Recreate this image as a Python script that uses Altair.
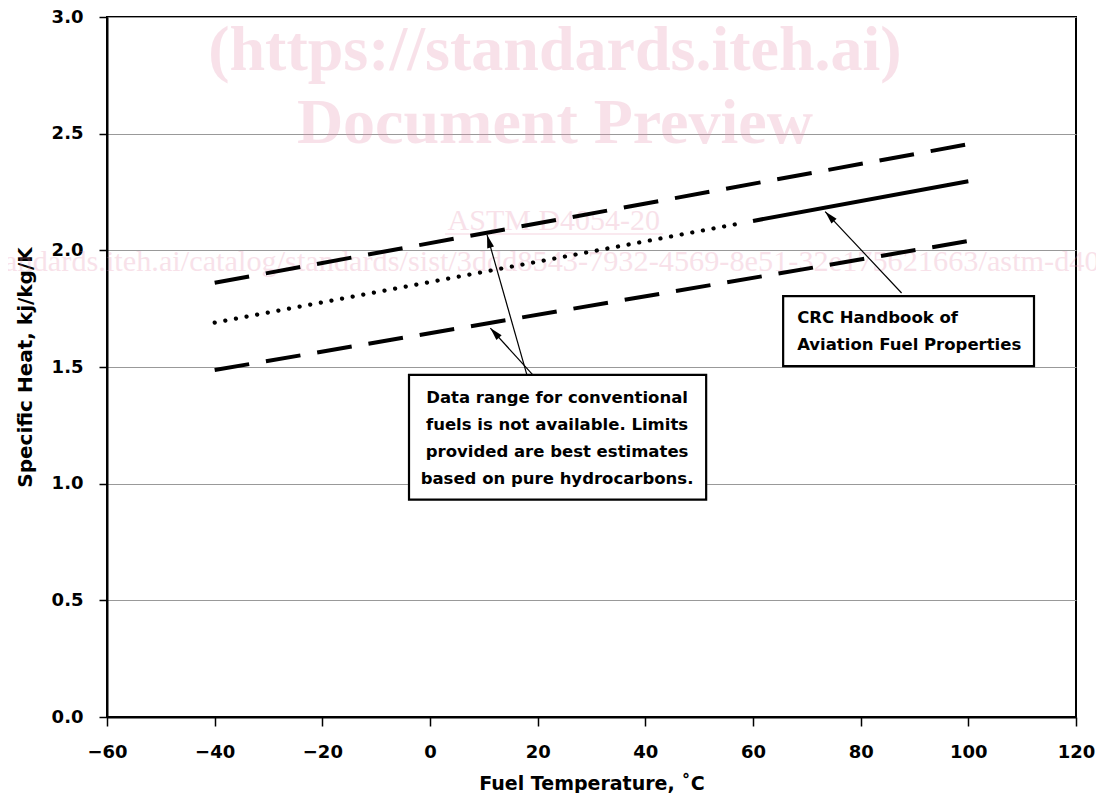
import math
import altair as alt
import pandas as pd

# ---------------- data ----------------
upper_temp = [-40, 100]
upper_heat = [1.861, 2.455]
lower_temp = [-40, 100]
lower_heat = [1.487, 2.040]
est_temp = [-40, 58]
est_heat = [1.690, 2.117]
crc_temp = [60, 100]
crc_heat = [2.126, 2.296]

x_ticks = [-60, -40, -20, 0, 20, 40, 60, 80, 100, 120]
y_ticks = [0.0, 0.5, 1.0, 1.5, 2.0, 2.5, 3.0]

box1_lines = [
    "Data range for conventional",
    "fuels is not available. Limits",
    "provided are best estimates",
    "based on pure hydrocarbons.",
]
box2_lines = ["CRC Handbook of", "Aviation Fuel Properties"]

wm_title = ["(https://standards.iteh.ai)", "Document Preview"]
wm_code = "ASTM D4054-20"
wm_url = "https://standards.iteh.ai/catalog/standards/sist/3ddd8543-7932-4569-8e51-32e175621663/astm-d4054-20"

# ---------------- layout (data units) ----------------
W, H = 969, 700
X_DOM, Y_DOM = [-60, 120], [0, 3]
PX_X = W / (X_DOM[1] - X_DOM[0])
PX_Y = H / (Y_DOM[1] - Y_DOM[0])

FONT = "DejaVu Sans"
SERIF = "Liberation Serif"

xs = alt.Scale(domain=X_DOM, nice=False, zero=False)
ys = alt.Scale(domain=Y_DOM, nice=False, zero=False)

xa = alt.Axis(values=x_ticks, grid=False, domainColor="black", domainWidth=2,
              tickColor="black", tickSize=9, tickWidth=1.5,
              labelFont=FONT, labelFontWeight="bold", labelFontSize=18,
              labelColor="black", labelPadding=17, labelOverlap=False, labelFlush=False,
              titleFont=FONT, titleFontWeight="bold", titleFontSize=19,
              titleColor="black", titlePadding=13)
ya = alt.Axis(values=y_ticks, format=".1f", grid=True, gridColor="#999999", gridWidth=1.2,
              domainColor="black", domainWidth=2,
              tickColor="black", tickSize=8, tickWidth=1.5,
              labelFont=FONT, labelFontWeight="bold", labelFontSize=18,
              labelColor="black", labelPadding=16, labelOverlap=False, labelFlush=False,
              titleFont=FONT, titleFontWeight="bold", titleFontSize=20,
              titleColor="black", titlePadding=16)

XT = "Fuel Temperature, ˚C"
YT = "Specific Heat, kj/kg/K"


def X(f="x"):
    return alt.X(f"{f}:Q", scale=xs, axis=xa, title=XT)


def Y(f="y"):
    return alt.Y(f"{f}:Q", scale=ys, axis=ya, title=YT)


def series_df(t, h):
    return pd.DataFrame({"x": t, "y": h})


# ---------------- watermark ----------------
WM_COLOR = "#e58fae"
WM_OP = 0.26
wm1 = pd.DataFrame({"x": [23.2, 23.2], "y": [2.773, 2.460], "t": wm_title})
wm_layer1 = alt.Chart(wm1).mark_text(font=SERIF, fontWeight="bold", fontSize=64,
                                     align="center", baseline="alphabetic",
                                     color=WM_COLOR, opacity=WM_OP).encode(x=X(), y=Y(), text="t:N")
wm2 = pd.DataFrame({"x": [23.0], "y": [2.087], "t": [wm_code]})
wm_layer2 = alt.Chart(wm2).mark_text(font=SERIF, fontSize=30, align="center",
                                     baseline="alphabetic", color=WM_COLOR,
                                     opacity=WM_OP).encode(x=X(), y=Y(), text="t:N")
wm_ul = pd.DataFrame({"x": [2.8], "x2": [43.3], "y": [2.070]})
wm_layer3 = alt.Chart(wm_ul).mark_rule(color=WM_COLOR, opacity=WM_OP, strokeWidth=1.5).encode(
    x=X(), x2="x2:Q", y=Y())
wm3 = pd.DataFrame({"x": [-98.5], "y": [1.911], "t": [wm_url]})
wm_layer4 = alt.Chart(wm3).mark_text(font=SERIF, fontSize=30.3, align="left",
                                     baseline="alphabetic", color=WM_COLOR,
                                     opacity=WM_OP).encode(x=X(), y=Y(), text="t:N")

# ---------------- series ----------------
upper = alt.Chart(series_df(upper_temp, upper_heat)).mark_line(
    color="black", strokeWidth=4, strokeDash=[35, 17]).encode(x=X(), y=Y())
lower = alt.Chart(series_df(lower_temp, lower_heat)).mark_line(
    color="black", strokeWidth=4, strokeDash=[35, 17]).encode(x=X(), y=Y())
est = alt.Chart(series_df(est_temp, est_heat)).mark_line(
    color="black", strokeWidth=4.2, strokeDash=[0.1, 10.7], strokeCap="round").encode(x=X(), y=Y())
crc = alt.Chart(series_df(crc_temp, crc_heat)).mark_line(
    color="black", strokeWidth=4).encode(x=X(), y=Y())

# ---------------- annotation boxes ----------------
boxes = pd.DataFrame({"x": [-3.9, 65.6], "x2": [51.3, 112.2],
                      "y": [1.466, 1.804], "y2": [0.932, 1.504]})
box_layer = alt.Chart(boxes).mark_rect(fill="white", stroke="black", strokeWidth=2.2).encode(
    x=X(), x2="x2:Q", y=Y(), y2="y2:Q")

b1 = pd.DataFrame({"x": [23.6] * 4, "y": [1.346, 1.230, 1.114, 1.000], "t": box1_lines})
b1_layer = alt.Chart(b1).mark_text(font=FONT, fontWeight="bold", fontSize=16.5, align="center",
                                   baseline="alphabetic", color="black").encode(
    x=X(), y=Y(), text="t:N")
b2 = pd.DataFrame({"x": [68.2] * 2, "y": [1.689, 1.573], "t": box2_lines})
b2_layer = alt.Chart(b2).mark_text(font=FONT, fontWeight="bold", fontSize=16.5, align="left",
                                   baseline="alphabetic", color="black").encode(
    x=X(), y=Y(), text="t:N")

# ---------------- arrows ----------------
arr = pd.DataFrame({
    "x": [18.0, 19.1, 87.6],      # tail
    "y": [1.466, 1.466, 1.817],
    "x2": [10.6, 11.2, 73.4],     # head
    "y2": [2.066, 1.667, 2.166],
})
arr["ang"] = [
    (math.degrees(math.atan2((hx - tx) * PX_X, (hy - ty) * PX_Y)) + 360) % 360
    for tx, ty, hx, hy in zip(arr.x, arr.y, arr.x2, arr.y2)
]
arrow_lines = alt.Chart(arr).mark_rule(color="black", strokeWidth=1.2).encode(
    x=X(), y=Y(), x2="x2:Q", y2="y2:Q")
head_df = arr[["x2", "y2", "ang"]].rename(columns={"x2": "x", "y2": "y"})
arrow_heads = alt.Chart(head_df).mark_point(
    shape="M0,0L-0.27,1L0.27,1Z", size=676, filled=True, color="black", opacity=1,
    strokeWidth=0).encode(x=X(), y=Y(), angle=alt.Angle("ang:Q", scale=None))

chart = alt.layer(
    wm_layer1, wm_layer2, wm_layer3, wm_layer4,
    upper, lower, est, crc,
    arrow_lines, arrow_heads,
    box_layer, b1_layer, b2_layer,
).properties(
    width=W, height=H,
    autosize=alt.AutoSizeParams(type="none"),
    padding={"left": 99, "top": 9, "right": 20, "bottom": 76},
    background="white",
).configure_view(stroke="black", strokeWidth=2)

chart.save("out.html", embed_options={"renderer": "svg", "actions": False})
